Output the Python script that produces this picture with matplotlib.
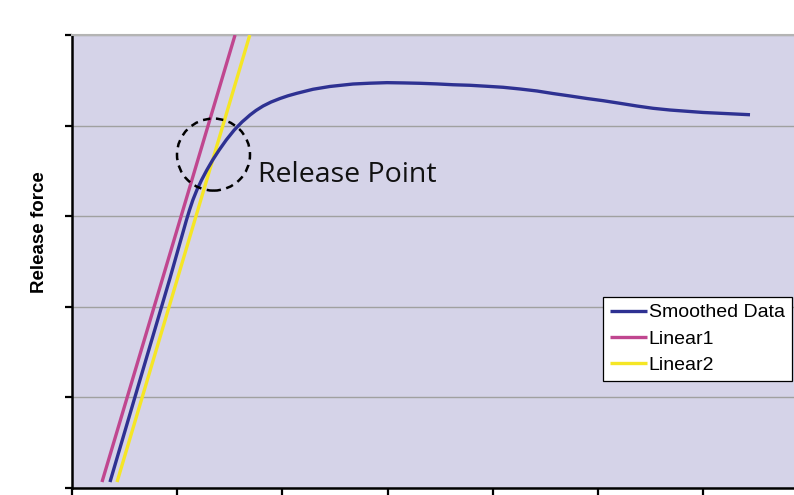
import numpy as np
import matplotlib
matplotlib.use("Agg")
from matplotlib import pyplot as plt
from matplotlib.patches import Ellipse

# --- values (arbitrary units, no tick labels) ---
smooth_x = [0.361, 0.646, 0.932, 1.088, 1.117, 1.149, 1.187, 1.232, 1.282,
            1.337, 1.399, 1.466, 1.542, 1.616, 1.654, 1.692, 1.749, 1.816,
            1.892, 1.977, 2.053, 2.139, 2.291, 2.452, 2.671, 2.833, 2.994,
            3.156, 3.308, 3.470, 3.622, 3.783, 3.945, 4.097, 4.259, 4.420,
            4.572, 4.734, 4.895, 5.048, 5.209, 5.371, 5.523, 5.684, 5.846,
            5.998, 6.160, 6.302, 6.445]
smooth_y = [0.066, 1.192, 2.318, 2.958, 3.068, 3.179, 3.289, 3.400, 3.510,
            3.620, 3.731, 3.841, 3.951, 4.040, 4.078, 4.117, 4.167, 4.216,
            4.260, 4.299, 4.329, 4.357, 4.401, 4.432, 4.459, 4.468, 4.474,
            4.471, 4.467, 4.460, 4.451, 4.445, 4.434, 4.423, 4.404, 4.382,
            4.354, 4.327, 4.299, 4.275, 4.246, 4.216, 4.191, 4.172, 4.158,
            4.145, 4.136, 4.128, 4.120]
linear1_x = [0.285, 1.55]
linear1_y = [0.066, 5.0]
linear2_x = [0.428, 1.69]
linear2_y = [0.066, 5.0]
series_labels = ["Smoothed Data", "Linear1", "Linear2"]
note_text = "Release Point"
ylabel_text = "Release force"

fig = plt.figure(figsize=(7.94, 4.95), dpi=100)
ax = fig.add_axes([72/794, 1 - 488/495, 736.4/794, 453/495])
ax.set_facecolor("#d5d3e8")

ax.plot(smooth_x, smooth_y, color="#2e3192", lw=2.4, label=series_labels[0],
        solid_capstyle="butt", solid_joinstyle="round", zorder=4)
ax.plot(linear1_x, linear1_y, color="#c0468f", lw=2.4, label=series_labels[1],
        solid_capstyle="butt", zorder=3)
ax.plot(linear2_x, linear2_y, color="#f5e625", lw=2.4, label=series_labels[2],
        solid_capstyle="butt", zorder=3)

# dashed circle around release point
circ = Ellipse((1.345, 3.68), 0.694, 0.795, fill=False, edgecolor="black",
               lw=1.8, linestyle=(0, (3, 2.2)), zorder=5)
ax.add_patch(circ)
ax.text(1.77, 3.45, note_text, fontsize=20.5, family="Open Sans",
        va="center", ha="left", color="#111111", zorder=6)

ax.set_xlim(0, 7)
ax.set_ylim(0, 5)
ax.set_xticks(np.arange(0, 8, 1))
ax.set_yticks(np.arange(0, 6, 1))
ax.set_xticklabels([])
ax.set_yticklabels([])
ax.yaxis.grid(True, color="#a0a0a0", lw=1)
ax.set_axisbelow(True)
ax.tick_params(direction="out", length=5, width=1.6, color="black")

ax.spines["left"].set_linewidth(1.8)
ax.spines["bottom"].set_linewidth(1.8)
ax.spines["top"].set_color("#b4b4b4")
ax.spines["top"].set_linewidth(1.5)
ax.spines["right"].set_visible(False)

fig.text(40/794, 1 - 232/495, ylabel_text, rotation=90, fontsize=13.5,
         fontweight="bold", family="Liberation Sans", ha="center", va="center")

leg = ax.legend(loc="upper left", bbox_to_anchor=(603/794, 1 - 297/495),
                bbox_transform=fig.transFigure, frameon=True, fancybox=False,
                edgecolor="black", facecolor="white", framealpha=1,
                prop={"family": "Liberation Sans", "size": 14},
                handlelength=1.9, handletextpad=0.1, borderpad=0.35,
                labelspacing=0.45, borderaxespad=0)
leg.get_frame().set_linewidth(0.9)

fig.savefig("out.png", dpi=100)
